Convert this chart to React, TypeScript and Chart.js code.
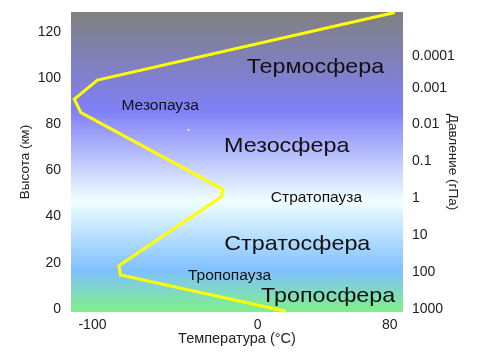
import React, { useEffect, useRef } from "react";
import { Chart, registerables } from "chart.js";

Chart.register(...registerables);

// Temperature profile (°C) vs altitude (km)
const temperatures = [17, -83, -84, -22, -21, -107, -111, -97, 83];
const altitudes = [-1, 14.7, 18.7, 48.6, 51.8, 85, 90.9, 99.1, 128.4];

const altitudeTicks = [0, 20, 40, 60, 80, 100, 120];
const temperatureTicks = [-100, 0, 80];

const pressureLabels = ["0.0001", "0.001", "0.01", "0.1", "1", "10", "100", "1000"];
const pressureAltitudes = [109.5, 95.7, 80, 64, 48, 32, 16, 0];

const layerNames = ["Термосфера", "Мезопауза", "Мезосфера", "Стратопауза", "Стратосфера", "Тропопауза", "Тропосфера"];
const layerTemps = [35, -59, 17.6, 35.6, 24, -17, 42.7];
const layerAlts = [104.8, 87.9, 70.6, 48, 28, 14.3, 5.6];
const layerSizes = [21, 14, 21, 14, 21, 14, 21];

const dotTemps = [-41.8];
const dotAlts = [77.5];

const X_MIN = -113;
const X_MAX = 88;
const Y_MIN = -1.3;
const Y_MAX = 128.6;

const FONT = "'Liberation Sans', Arial, sans-serif";
const STRETCH = 1.11;

const backgroundPlugin = {
  id: "bgGradient",
  beforeDatasetsDraw(chart: any) {
    const { ctx, chartArea } = chart;
    const { left, top, right, bottom } = chartArea;
    const g = ctx.createLinearGradient(0, top, 0, bottom);
    g.addColorStop(0, "#808080");
    g.addColorStop(0.33, "#8080f8");
    g.addColorStop(0.63, "#f0ffff");
    g.addColorStop(0.86, "#80c0ff");
    g.addColorStop(1, "#80f088");
    ctx.save();
    ctx.fillStyle = g;
    ctx.fillRect(left, top, right - left, bottom - top);
    ctx.restore();
  },
  afterDatasetsDraw(chart: any) {
    const { ctx, scales } = chart;
    ctx.save();
    ctx.fillStyle = "#111";
    ctx.textAlign = "center";
    ctx.textBaseline = "middle";
    layerNames.forEach((name, i) => {
      ctx.save();
      ctx.font = `${layerSizes[i]}px ${FONT}`;
      ctx.translate(scales.x.getPixelForValue(layerTemps[i]), scales.y.getPixelForValue(layerAlts[i]));
      ctx.scale(STRETCH, 1);
      ctx.fillText(name, 0, 0);
      ctx.restore();
    });
    ctx.restore();
  },
};

const noPad = (s: any) => {
  s.paddingTop = 0;
  s.paddingBottom = 0;
  s.paddingLeft = 0;
  s.paddingRight = 0;
};

export default function App() {
  const ref = useRef<HTMLCanvasElement>(null);
  useEffect(() => {
    document.body.style.margin = "0";
    const chart = new Chart(ref.current!, {
      type: "line",
      data: {
        datasets: [
          {
            data: temperatures.map((t, i) => ({ x: t, y: altitudes[i] })),
            borderColor: "#ffff00",
            borderWidth: 3,
            pointRadius: 0,
            tension: 0,
            clip: false as any,
          },
          {
            data: dotTemps.map((t, i) => ({ x: t, y: dotAlts[i] })),
            showLine: false,
            pointRadius: 1,
            pointBorderWidth: 0,
            pointBackgroundColor: "#ffffff",
            borderColor: "#ffffff",
          },
        ],
      },
      options: {
        animation: false,
        responsive: false,
        plugins: { legend: { display: false }, tooltip: { enabled: false } },
        layout: { padding: { top: 12, left: 0, right: 0, bottom: 0 } },
        scales: {
          x: {
            type: "linear",
            min: X_MIN,
            max: X_MAX,
            grid: { display: false, drawTicks: false },
            border: { display: false },
            afterBuildTicks: (s: any) => {
              s.ticks = temperatureTicks.map((v) => ({ value: v }));
            },
            afterFit: (s: any) => {
              s.height = 48;
              noPad(s);
            },
            ticks: { color: "#222", font: { family: FONT, size: 14 }, padding: 5, maxRotation: 0 },
            title: {
              display: true,
              text: "Температура (°C)",
              color: "#222",
              font: { family: FONT, size: 14.5 },
              padding: { bottom: 12, top: 0 },
            },
          },
          y: {
            type: "linear",
            position: "left",
            min: Y_MIN,
            max: Y_MAX,
            grid: { display: false, drawTicks: false },
            border: { display: false },
            afterBuildTicks: (s: any) => {
              s.ticks = altitudeTicks.map((v) => ({ value: v }));
            },
            afterFit: (s: any) => {
              s.width = 71;
              noPad(s);
            },
            ticks: { color: "#222", font: { family: FONT, size: 14 }, padding: 10 },
            title: {
              display: true,
              text: "Высота (км)",
              color: "#222",
              font: { family: FONT, size: 13.5 },
              padding: { top: 17, bottom: 0 },
            },
          },
          y2: {
            type: "linear",
            position: "right",
            min: Y_MIN,
            max: Y_MAX,
            grid: { display: false, drawTicks: false },
            border: { display: false },
            afterBuildTicks: (s: any) => {
              s.ticks = pressureAltitudes.map((v) => ({ value: v }));
            },
            afterFit: (s: any) => {
              s.width = 77;
              noPad(s);
            },
            ticks: {
              color: "#222",
              font: { family: FONT, size: 14 },
              padding: 9,
              callback: (v: any) => {
                const i = pressureAltitudes.indexOf(Number(v));
                return i >= 0 ? pressureLabels[i] : "";
              },
            },
            title: {
              display: true,
              text: "Давление (гПа)",
              color: "#222",
              font: { family: FONT, size: 13.5 },
              padding: { top: 19, bottom: 0 },
            },
          },
        },
      },
      plugins: [backgroundPlugin],
    });
    return () => chart.destroy();
  }, []);
  return (
    <div style={{ position: "absolute", left: 0, top: 0, width: 480, height: 360 }}>
      <canvas ref={ref} width={480} height={360} />
    </div>
  );
}
